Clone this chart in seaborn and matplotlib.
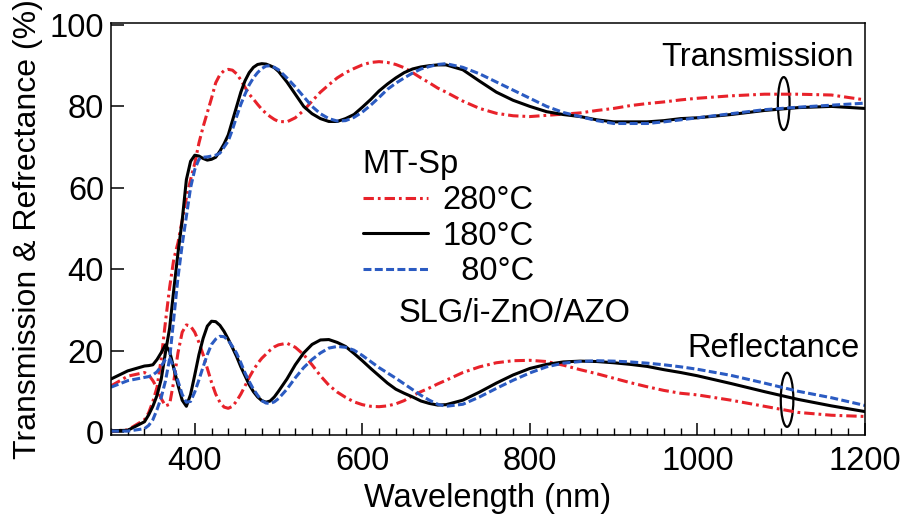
import matplotlib
matplotlib.use("Agg")
import matplotlib.pyplot as plt
from matplotlib.patches import Ellipse
from matplotlib.ticker import MultipleLocator
import seaborn as sns

# wavelength grid (nm) shared by all curves
wavelength = [300, 320, 340, 345, 350, 355, 360, 365, 370, 375,
              380, 385, 390, 395, 400, 405, 410, 415, 420, 425,
              430, 435, 440, 445, 450, 455, 460, 465, 470, 475,
              480, 485, 490, 495, 500, 510, 520, 530, 540, 550,
              560, 570, 580, 590, 600, 610, 620, 630, 640, 650,
              660, 670, 680, 690, 700, 720, 740, 760, 780, 800,
              820, 840, 860, 880, 900, 920, 940, 960, 980, 1000,
              1040, 1080, 1120, 1160, 1200]

# transmission (%)
trans_280 = [0.2, 0.5, 3.0, 4.7, 7.5, 11.0, 18.0, 27.0, 35.5, 42.5,
             46.5, 52.0, 57.5, 62.0, 66.0, 71.0, 75.0, 78.5, 82.0, 85.8,
             87.8, 88.8, 89.1, 88.9, 88.0, 86.5, 84.7, 83.0, 81.8, 80.5,
             79.3, 78.3, 77.5, 76.8, 76.3, 76.2, 77.2, 79.0, 81.3, 83.5,
             85.3, 87.0, 88.3, 89.3, 90.2, 90.8, 91.0, 90.8, 90.3, 89.5,
             88.3, 87.0, 85.8, 84.5, 83.5, 81.3, 79.5, 78.3, 77.7, 77.5,
             77.8, 78.1, 78.4, 79.0, 79.5, 80.2, 80.7, 81.1, 81.6, 82.0,
             82.6, 83.0, 83.0, 82.8, 81.6]
trans_180 = [0.3, 0.4, 2.5, 4.2, 6.3, 9.0, 13.0, 19.5, 25.5, 35.0,
             44.0, 52.0, 62.0, 66.5, 68.0, 67.8, 67.2, 66.8, 67.0, 67.5,
             69.0, 70.8, 73.0, 76.5, 80.0, 83.5, 86.3, 88.3, 89.6, 90.3,
             90.5, 90.4, 90.0, 89.5, 88.6, 86.0, 83.0, 80.0, 78.2, 77.0,
             76.3, 76.3, 77.0, 78.0, 79.8, 81.7, 83.8, 85.5, 87.0, 88.3,
             89.2, 89.7, 90.0, 90.2, 90.2, 89.0, 86.2, 83.5, 81.5, 80.0,
             78.7, 78.0, 77.5, 76.7, 76.2, 76.2, 76.2, 76.5, 77.0, 77.2,
             78.0, 79.0, 79.7, 80.0, 79.5]
trans_80 = [0.2, 0.2, 0.8, 1.6, 3.0, 5.5, 8.5, 12.5, 18.0, 28.0,
            38.0, 46.0, 53.0, 60.0, 64.5, 67.0, 67.5, 67.6, 67.8, 68.0,
            68.5, 70.0, 71.5, 74.3, 77.5, 80.5, 83.0, 85.3, 87.0, 88.3,
            89.3, 89.9, 90.0, 89.6, 89.0, 87.0, 84.8, 82.4, 80.0, 78.2,
            77.0, 76.4, 76.5, 77.3, 78.6, 80.3, 82.2, 84.2, 85.7, 87.0,
            88.2, 89.2, 89.8, 90.3, 90.5, 89.6, 88.0, 86.0, 84.0, 82.0,
            80.0, 78.5, 77.5, 76.5, 75.8, 75.8, 75.8, 76.2, 76.7, 77.2,
            78.2, 79.2, 79.8, 80.3, 80.8]

# reflectance (%)
refl_280 = [11.3, 13.7, 14.6, 14.0, 12.6, 10.8, 8.2, 6.4, 6.8, 12.5,
            19.5, 24.5, 26.3, 26.0, 24.5, 22.0, 19.0, 15.6, 12.2, 9.3,
            7.3, 6.1, 5.8, 6.3, 7.6, 9.3, 11.3, 13.4, 15.2, 16.8,
            18.1, 19.1, 20.1, 20.9, 21.4, 21.8, 20.8, 19.0, 16.5, 13.8,
            11.5, 9.8, 8.5, 7.4, 6.7, 6.3, 6.2, 6.4, 6.9, 7.7,
            8.9, 9.9, 10.8, 11.8, 12.7, 14.6, 16.0, 17.0, 17.5, 17.6,
            17.3, 16.4, 15.3, 14.3, 13.2, 12.1, 11.1, 10.2, 9.5, 9.1,
            7.8, 6.3, 4.8, 4.1, 3.8]
refl_180 = [13.0, 15.0, 16.2, 16.3, 16.5, 17.8, 19.5, 21.4, 19.8, 15.6,
            11.5, 7.8, 6.3, 9.2, 14.0, 19.0, 23.0, 26.0, 27.2, 27.1,
            26.2, 24.7, 22.8, 20.7, 18.5, 16.0, 13.8, 11.6, 9.9, 8.6,
            7.7, 7.3, 7.6, 8.6, 10.0, 13.0, 16.5, 19.4, 21.5, 22.6,
            22.7, 22.0, 21.0, 19.3, 17.5, 15.6, 13.8, 12.0, 10.5, 9.5,
            8.6, 7.6, 7.0, 6.6, 6.7, 7.8, 9.8, 12.0, 14.0, 15.6,
            16.6, 17.2, 17.4, 17.3, 17.0, 16.6, 16.1, 15.3, 14.6, 13.8,
            11.9, 9.9, 8.0, 6.4, 5.0]
refl_80 = [11.0, 12.6, 13.4, 13.6, 14.0, 14.8, 16.2, 17.8, 18.2, 15.8,
           12.5, 9.2, 7.3, 7.5, 9.8, 12.8, 16.0, 19.0, 21.5, 22.8,
           23.5, 23.4, 22.5, 21.0, 19.3, 17.0, 14.5, 12.4, 10.5, 9.0,
           7.7, 7.1, 7.0, 7.4, 8.2, 10.5, 13.3, 15.8, 17.8, 19.4,
           20.6, 21.0, 20.8, 20.1, 18.8, 17.3, 15.8, 14.5, 13.2, 11.8,
           10.4, 9.0, 7.8, 6.8, 6.3, 6.8, 8.6, 10.7, 12.7, 14.5,
           16.0, 16.9, 17.3, 17.5, 17.4, 17.2, 16.9, 16.5, 16.0, 15.4,
           13.9, 12.0, 10.0, 8.4, 6.5]

labels = ['280\u00b0C', '180\u00b0C', '  80\u00b0C']

sns.set_theme(style='ticks')
plt.rcParams['font.family'] = ['Liberation Sans', 'DejaVu Sans']
plt.rcParams['axes.linewidth'] = 1.1
for key in ['text.color', 'axes.labelcolor', 'xtick.color', 'ytick.color',
            'axes.edgecolor', 'legend.labelcolor']:
    plt.rcParams[key] = 'black'

fs = 23.5

fig = plt.figure(figsize=(9.03, 5.2), dpi=100)
ax = fig.add_axes([0.1229, 0.1635, 0.835, 0.7923])

styles = [
    dict(color='#e8222a', dashes=(3.4, 1.3, 0.9, 1.3)),
    dict(color='black', dashes=()),
    dict(color='#2b5bc2', dashes=(2.6, 1.1)),
]
trans = [trans_280, trans_180, trans_80]
refl = [refl_280, refl_180, refl_80]

handles = []
for lab, st, t, r in zip(labels, styles, trans, refl):
    kw = dict(color=st['color'], linewidth=2.2)
    if st['dashes']:
        kw['dashes'] = st['dashes']
    sns.lineplot(x=wavelength, y=t, ax=ax, **kw)
    handles.append(ax.lines[-1])
    sns.lineplot(x=wavelength, y=r, ax=ax, **kw)

ax.set_xlim(300, 1200)
ax.set_ylim(-0.75, 100.5)
ax.xaxis.set_major_locator(MultipleLocator(200))
ax.xaxis.set_minor_locator(MultipleLocator(20))
ax.yaxis.set_major_locator(MultipleLocator(20))
ax.tick_params(axis='both', which='major', direction='in', length=9, width=1.1,
               labelsize=fs, color='black')
ax.tick_params(axis='x', which='minor', direction='in', length=5, width=1.0)
ax.tick_params(axis='x', which='major', pad=8)
ax.tick_params(axis='y', which='major', pad=5)
for sp in ax.spines.values():
    sp.set_visible(True)
    sp.set_color('black')

ax.set_xlabel('Wavelength (nm)', fontsize=fs, labelpad=4)
ax.set_ylabel('Transmission & Refrectance (%)', fontsize=23, labelpad=5)

leg = ax.legend(handles, labels, title='MT-Sp', loc='upper left',
                bbox_to_anchor=(0.334, 0.693), frameon=False, fontsize=fs,
                title_fontsize=fs, handlelength=2.0, handletextpad=0.45,
                labelspacing=0.14, borderpad=0, borderaxespad=0,
                alignment='left')

ax.text(643, 29.2, 'SLG/i-ZnO/AZO', fontsize=fs, ha='left', va='center')
ax.text(957, 92.0, 'Transmission', fontsize=fs, ha='left', va='center')
ax.text(988, 20.6, 'Reflectance', fontsize=fs, ha='left', va='center')

ax.add_patch(Ellipse((1103, 80.7), 14, 13, fill=False, edgecolor='black', linewidth=1.6))
ax.add_patch(Ellipse((1107, 7.9), 15, 13.3, fill=False, edgecolor='black', linewidth=1.6))

fig.savefig('out.png', dpi=100)
